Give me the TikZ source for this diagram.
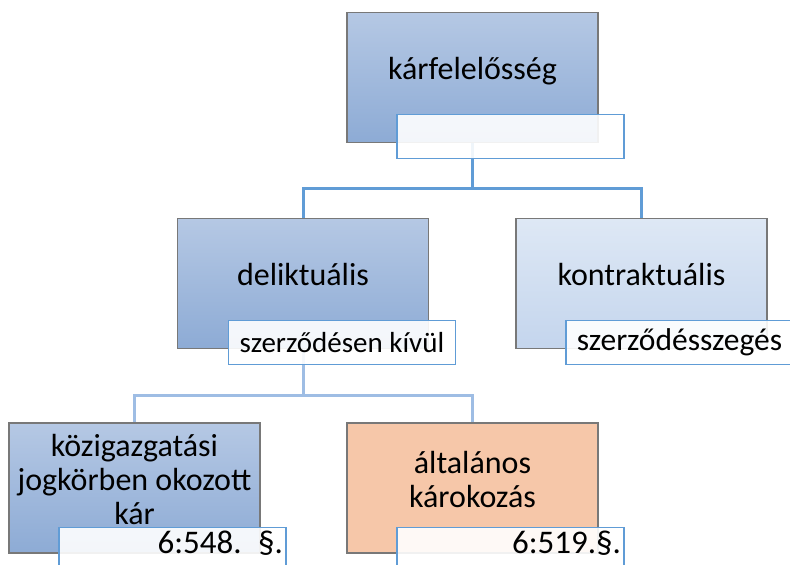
\documentclass[tikz,border=0pt]{standalone}
\usepackage{fontspec}
\setmainfont{Carlito}
\usetikzlibrary{positioning}
\definecolor{boxblue}{RGB}{181,200,228}
\definecolor{boxbluedk}{RGB}{141,171,213}
\definecolor{boxpale}{RGB}{222,232,245}
\definecolor{boxpaledk}{RGB}{196,213,237}
\definecolor{boxorange}{RGB}{246,199,169}
\definecolor{rimgray}{RGB}{120,120,120}
\definecolor{lineblue}{RGB}{96,156,214}
\definecolor{linelight}{RGB}{158,189,228}

\begin{document}
\begin{tikzpicture}[x=1pt, y=-1pt,
  mbox/.style={draw=rimgray, line width=1.2pt, minimum width=251pt, minimum height=130pt, align=center, text depth=18pt, inner sep=4pt, font=\fontsize{32}{34}\selectfont},
  tag/.style={draw=lineblue, line width=1.1pt, fill=white, fill opacity=0.9, text opacity=1, minimum width=227pt, minimum height=44pt, anchor=north west, inner sep=5pt, font=\fontsize{29}{31}\selectfont},
  endtag/.style={tag, text width=221pt, inner sep=3pt, align=right, text depth=14pt, font=\fontsize{33}{35}\selectfont},
  link/.style={draw=lineblue, line width=3pt},
  sublink/.style={draw=linelight, line width=3pt}
]
  \useasboundingbox (0,0) rectangle (790,565);

  \node[mbox, top color=boxblue, bottom color=boxbluedk] (root) at (472.5, 77.5) {kárfelelősség};
  \node[mbox, top color=boxblue, bottom color=boxbluedk] (delikt) at (303, 283.5) {deliktuális};
  \node[mbox, top color=boxpale, bottom color=boxpaledk] (kontr) at (641.5, 283.5) {kontraktuális};
  \node[mbox, top color=boxblue, bottom color=boxbluedk] (kozig) at (134.5, 488) {közigazgatási\\jogkörben okozott\\kár};
  \node[mbox, fill=boxorange] (altal) at (472.5, 488) {általános\\károkozás};

  \draw[link] (root.south) -- ++(0,45) -| (delikt.north);
  \draw[link] (root.south) -- ++(0,45) -| (kontr.north);
  \draw[sublink] (delikt.south) -- ++(0,46) -| (kozig.north);
  \draw[sublink] (delikt.south) -- ++(0,46) -| (altal.north);

  \node[tag] (rootlbl) at ([xshift=50pt, yshift=29pt]root.south west) {};
  \node[tag] (deliktlbl) at ([xshift=51pt, yshift=29pt]delikt.south west) {szerződésen kívül};
  \node[tag, font=\fontsize{31.5}{33}\selectfont] (kontrlbl) at ([xshift=50pt, yshift=29pt]kontr.south west) {szerződésszegés};
  \node[endtag] (koziglbl) at ([xshift=50pt, yshift=27pt]kozig.south west) {6:548. §.};
  \node[endtag] (altallbl) at ([xshift=50pt, yshift=27pt]altal.south west) {6:519.§.\hspace*{4pt}};
\end{tikzpicture}
\end{document}
